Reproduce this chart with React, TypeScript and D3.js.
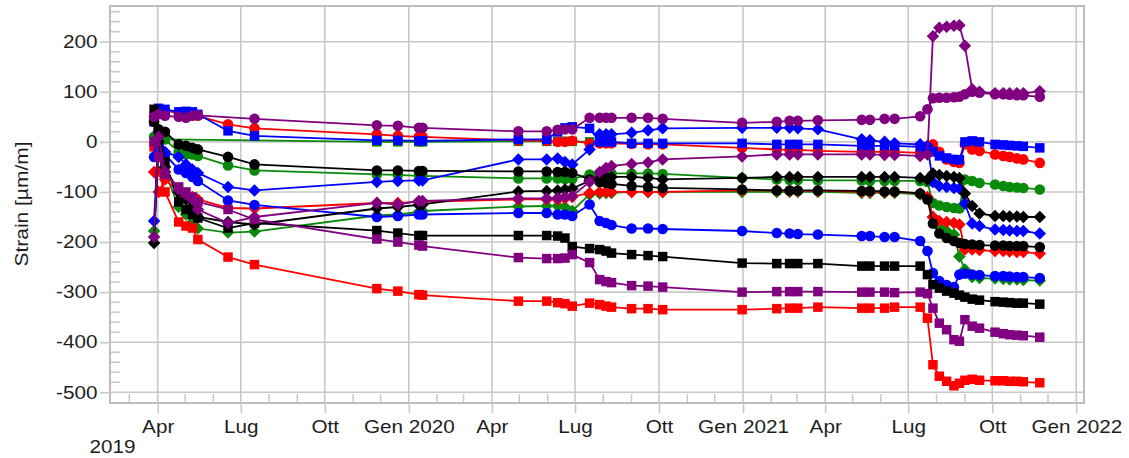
import React, { useEffect, useRef } from "react";
import * as d3 from "d3";

// measurement dates (one campaign per entry)
const dates = [
  "2019-03-28", "2019-04-02", "2019-04-09", "2019-04-24", "2019-05-02", "2019-05-09", "2019-05-15", "2019-06-17", "2019-07-16", "2019-11-27",
  "2019-12-20", "2020-01-12", "2020-01-16", "2020-04-30", "2020-05-31", "2020-06-12", "2020-06-20", "2020-06-28", "2020-07-17", "2020-07-28",
  "2020-08-04", "2020-08-10", "2020-09-01", "2020-09-19", "2020-10-05", "2020-12-31", "2021-02-07", "2021-02-21", "2021-03-02", "2021-03-24",
  "2021-05-11", "2021-05-20", "2021-06-05", "2021-06-16", "2021-07-14", "2021-07-22", "2021-07-28", "2021-08-04", "2021-08-12", "2021-08-20",
  "2021-08-26", "2021-09-01", "2021-09-09", "2021-09-17", "2021-10-04", "2021-10-13", "2021-10-20", "2021-10-28", "2021-11-04", "2021-11-22",
];

// strain values [µm/m], one array per gauge
const purpleCircle = [
  50, 55, 52, 50, 48, 52, 53, null, 46, 33,
  32, 28, 28, 21, 21, 24, 25, 25, 48, 48,
  48, 48, 48, 48, 46, 38, 40, 42, 42, 43,
  44, 44, 46, 46, 51, 65, 87, 88, 88, 89,
  90, 95, 100, 98, 95, 95, 94, 93, 93, 90,
];
const purpleDiamond = [
  -190, 10, -60, -95, -105, -115, -135, -162, -150, -122,
  -125, -118, -118, -113, -113, -112, -110, -108, -80, -60,
  -52, -48, -44, -41, -35, -29, -25, -25, -25, -25,
  -25, -25, -26, -26, -28, -25, 211, 228, 230, 232,
  233, 192, 105, 100, 97, 97, 97, 97, 97, 101,
];
const purpleSquare = [
  0, -30, -65, -90, -100, -110, -120, -135, -155, -194,
  -200, -206, -208, -231, -233, -233, -232, -225, -241, -275,
  -279, -281, -287, -288, -290, -300, -299, -299, -299, -299,
  -300, -300, -300, -301, -300, -303, -332, -362, -375, -395,
  -398, -355, -368, -372, -380, -383, -385, -386, -387, -390,
];
const redCircle = [
  40, 65, 62, 58, 55, 55, 52, 35, 27, 15,
  12, 10, 10, 3, 2, 0, 0, 2, -3, -3,
  -3, -3, -4, -5, -5, -12, -15, -16, -16, -18,
  -20, -20, -20, -20, -22, -10, -5, -20, -35, -40,
  -42, -5, -15, -18, -25, -28, -30, -33, -35, -42,
];
const redDiamond = [
  -60, -100, -75, -100, -108, -110, -115, -132, -133, -122,
  -122, -120, -120, -115, -115, -115, -113, -110, -102, -100,
  -100, -100, -100, -100, -100, -97, -97, -98, -98, -98,
  -100, -100, -100, -100, -103, -110, -150, -158, -160, -162,
  -165, -215, -215, -216, -218, -218, -219, -220, -220, -223,
];
const redSquare = [
  -10, -60, -100, -160, -168, -172, -195, -230, -245, -293,
  -298, -305, -306, -318, -318, -321, -323, -328, -322, -325,
  -328, -330, -333, -333, -335, -335, -333, -332, -332, -330,
  -332, -332, -332, -330, -330, -352, -445, -468, -478, -487,
  -482, -476, -474, -476, -477, -477, -478, -478, -479, -481,
];
const blueCircle = [
  -30, -15, -25, -55, -62, -70, -78, -117, -126, -150,
  -148, -145, -145, -142, -142, -145, -145, -148, -125, -158,
  -162, -166, -173, -173, -174, -178, -182, -183, -184, -185,
  -188, -188, -190, -190, -198, -218, -262, -278, -286, -290,
  -265, -263, -265, -266, -268, -268, -269, -270, -270, -272,
];
const blueDiamond = [
  -158, 20, -20, -30, -45, -55, -62, -90, -97, -80,
  -78, -77, -77, -35, -35, -33, -40, -45, -15, 15,
  15, 15, 18, 23, 27, 28, 28, 28, 27, 25,
  5, 3, 0, -3, -5, -8, -80, -88, -90, -92,
  -93, -123, -163, -168, -175, -176, -177, -178, -178, -183,
];
const blueSquare = [
  40, 67, 65, 60, 61, 60, 55, 22, 12, 3,
  3, 2, 2, 5, 5, 20, 28, 30, 27, 0,
  0, 0, -3, -3, -3, -3, -5, -5, -5, -5,
  -8, -8, -8, -8, -10, -12, -20, -28, -32, -35,
  -36, 0, 2, 0, -5, -6, -7, -8, -9, -12,
];
const blackCircle = [
  40, 25, 20, -5, -8, -12, -15, -30, -45, -57,
  -57, -58, -58, -59, -59, -60, -60, -62, -75, -80,
  -82, -84, -88, -90, -92, -95, -97, -97, -97, -97,
  -98, -98, -99, -99, -103, -115, -163, -183, -192, -198,
  -202, -204, -205, -206, -207, -207, -208, -208, -208, -210,
];
const blackDiamond = [
  -202, 0, -50, -100, -115, -128, -150, -160, -165, -133,
  -130, -126, -125, -99, -98, -97, -95, -93, -78, -72,
  -70, -70, -70, -72, -75, -72, -70, -70, -70, -70,
  -70, -70, -70, -70, -72, -75, -63, -66, -68, -70,
  -72, -103, -128, -143, -148, -148, -149, -149, -150, -150,
];
const blackSquare = [
  65, 20, -40, -120, -135, -145, -152, -172, -162, -177,
  -182, -187, -187, -187, -187, -188, -192, -209, -213, -215,
  -218, -222, -225, -227, -229, -242, -243, -243, -243, -243,
  -248, -248, -248, -248, -248, -265, -285, -292, -298, -302,
  -306, -310, -314, -316, -319, -320, -321, -322, -322, -324,
];
const greenCircle = [
  10, 15, 5, -20, -25, -25, -28, -47, -57, -65,
  -66, -68, -68, -73, -73, -73, -74, -74, -65, -63,
  -63, -63, -63, -63, -64, -72, -75, -76, -76, -77,
  -77, -78, -78, -78, -78, -80, -122, -127, -130, -132,
  -133, -75, -78, -82, -85, -88, -90, -91, -92, -95,
];
const greenDiamond = [
  -178, -20, -60, -130, -145, -160, -173, -181, -179, -147,
  -145, -140, -138, -129, -128, -128, -130, -138, -105, -103,
  -102, -102, -100, -100, -100, -100, -100, -100, -100, -100,
  -102, -102, -102, -102, -105, -112, -150, -170, -178, -185,
  -229, -255, -270, -272, -273, -274, -275, -275, -276, -277,
];
const greenSquare = [
  null, null, 5, null, null, null, null, null, null, 0,
  0, 0, 0, 1, 1, 1, 1, 1, 0, null,
];

const monthNames = ["Gen", "Feb", "Mar", "Apr", "Mag", "Giu", "Lug", "Ago", "Set", "Ott", "Nov", "Dic"];
const yTicks = [-500, -400, -300, -200, -100, 0, 100, 200];

const series = [
  { values: greenCircle, color: "#0a8a0a", shape: d3.symbolCircle },
  { values: greenDiamond, color: "#0a8a0a", shape: d3.symbolDiamond2 },
  { values: greenSquare, color: "#0a8a0a", shape: d3.symbolSquare },
  { values: redCircle, color: "#ff0000", shape: d3.symbolCircle },
  { values: redDiamond, color: "#ff0000", shape: d3.symbolDiamond2 },
  { values: redSquare, color: "#ff0000", shape: d3.symbolSquare },
  { values: blueCircle, color: "#0000ff", shape: d3.symbolCircle },
  { values: blueDiamond, color: "#0000ff", shape: d3.symbolDiamond2 },
  { values: blueSquare, color: "#0000ff", shape: d3.symbolSquare },
  { values: blackCircle, color: "#000000", shape: d3.symbolCircle },
  { values: blackDiamond, color: "#000000", shape: d3.symbolDiamond2 },
  { values: blackSquare, color: "#000000", shape: d3.symbolSquare },
  { values: purpleCircle, color: "#800080", shape: d3.symbolCircle },
  { values: purpleDiamond, color: "#800080", shape: d3.symbolDiamond2 },
  { values: purpleSquare, color: "#800080", shape: d3.symbolSquare },
];

const W = 1129;
const H = 458;
const box = { left: 110, right: 1084, top: 6, bottom: 403 };
const gridColor = "#c8c8c8";
const textColor = "#1e1e1e";
const stretch = "scale(1.15,1)";
const font = "'Liberation Sans', Arial, sans-serif";

export default function App() {
  const svgRef = useRef<SVGSVGElement>(null);

  useEffect(() => {
    if (!svgRef.current) return;
    const svg = d3.select(svgRef.current);
    svg.selectAll("*").remove();

    const x = d3.scaleUtc()
      .domain([new Date(Date.UTC(2019, 3, 1)), new Date(Date.UTC(2022, 0, 1))])
      .range([157.7, 1076.3]);
    const y = d3.scaleLinear().domain([-500, 200]).range([392.3, 41.7]);

    const t0 = x.invert(box.left);
    const t1 = x.invert(box.right);
    const quarters = d3.utcMonth.every(3)!.range(t0, t1);
    const months = d3.utcMonth.range(t0, t1).filter(d => d.getUTCMonth() % 3 !== 0);
    const minorY = d3.range(-500, 261, 20).filter(v => v % 100 !== 0);

    svg.append("rect")
      .attr("width", W).attr("height", H).attr("fill", "#fff");

    // grid
    const grid = svg.append("g").attr("stroke", gridColor).attr("stroke-width", 1.6);
    grid.selectAll("line.v").data(quarters).join("line")
      .attr("x1", d => x(d)).attr("x2", d => x(d))
      .attr("y1", box.top).attr("y2", box.bottom);
    grid.selectAll("line.h").data(yTicks).join("line")
      .attr("class", "h")
      .attr("x1", box.left).attr("x2", box.right)
      .attr("y1", d => y(d)).attr("y2", d => y(d));

    // minor ticks (inside)
    const minor = svg.append("g").attr("stroke", gridColor).attr("stroke-width", 1.5);
    minor.selectAll("line.my").data(minorY).join("line")
      .attr("x1", box.left).attr("x2", box.left + 10)
      .attr("y1", d => y(d)).attr("y2", d => y(d));
    minor.selectAll("line.mx").data(months).join("line")
      .attr("class", "mx")
      .attr("x1", d => x(d)).attr("x2", d => x(d))
      .attr("y1", box.bottom - 9).attr("y2", box.bottom);

    // frame
    svg.append("rect")
      .attr("x", box.left).attr("y", box.top)
      .attr("width", box.right - box.left).attr("height", box.bottom - box.top)
      .attr("fill", "none").attr("stroke", "#bdbdbd").attr("stroke-width", 2);

    // axes
    const xAxis = svg.append("g")
      .attr("transform", `translate(0,${box.bottom})`)
      .call(d3.axisBottom(x)
        .tickValues(quarters)
        .tickSize(10)
        .tickPadding(7)
        .tickFormat(d => {
          const dt = d as Date;
          const m = monthNames[dt.getUTCMonth()];
          return dt.getUTCMonth() === 0 ? `${m} ${dt.getUTCFullYear()}` : m;
        }));
    const yAxis = svg.append("g")
      .attr("transform", `translate(${box.left},0)`)
      .call(d3.axisLeft(y).tickValues(yTicks).tickSize(10).tickFormat(d => String(d)));

    [xAxis, yAxis].forEach(ax => {
      ax.select(".domain").remove();
      ax.selectAll(".tick line").attr("stroke", gridColor).attr("stroke-width", 1.6);
      ax.selectAll(".tick text")
        .attr("fill", textColor)
        .style("font-family", font)
        .style("font-size", "18px")
        .attr("transform", stretch);
    });
    yAxis.selectAll(".tick text").attr("x", -12.5 / 1.15);

    svg.append("g")
      .attr("transform", "translate(112.5,453)")
      .append("text")
      .attr("transform", stretch)
      .attr("text-anchor", "middle")
      .attr("fill", textColor)
      .style("font-family", font)
      .style("font-size", "18px")
      .text("2019");

    svg.append("text")
      .attr("transform", "translate(28,204) rotate(-90)")
      .attr("text-anchor", "middle")
      .attr("fill", textColor)
      .attr("textLength", 125)
      .attr("lengthAdjust", "spacingAndGlyphs")
      .style("font-family", font)
      .style("font-size", "18px")
      .text("Strain [µm/m]");

    // data
    const line = d3.line<[Date, number]>()
      .x(d => x(d[0]))
      .y(d => y(d[1]));

    const plot = svg.append("g");
    series.forEach(s => {
      const pts: [Date, number][] = [];
      s.values.forEach((v, i) => {
        if (v !== null && v !== undefined) pts.push([new Date(dates[i] + "T00:00:00Z"), v]);
      });
      const g = plot.append("g");
      g.append("path")
        .attr("d", line(pts))
        .attr("fill", "none")
        .attr("stroke", s.color)
        .attr("stroke-width", 1.8);
      const sym = d3.symbol().type(s.shape)
        .size(s.shape === d3.symbolSquare ? 90 : s.shape === d3.symbolCircle ? 88 : 100);
      g.selectAll("path.m").data(pts).join("path")
        .attr("class", "m")
        .attr("transform", d => `translate(${x(d[0])},${y(d[1])})`)
        .attr("d", sym()!)
        .attr("fill", s.color);
    });
  }, []);

  return (
    <svg
      ref={svgRef}
      width={W}
      height={H}
      style={{ position: "absolute", left: 0, top: 0, display: "block" }}
    />
  );
}
